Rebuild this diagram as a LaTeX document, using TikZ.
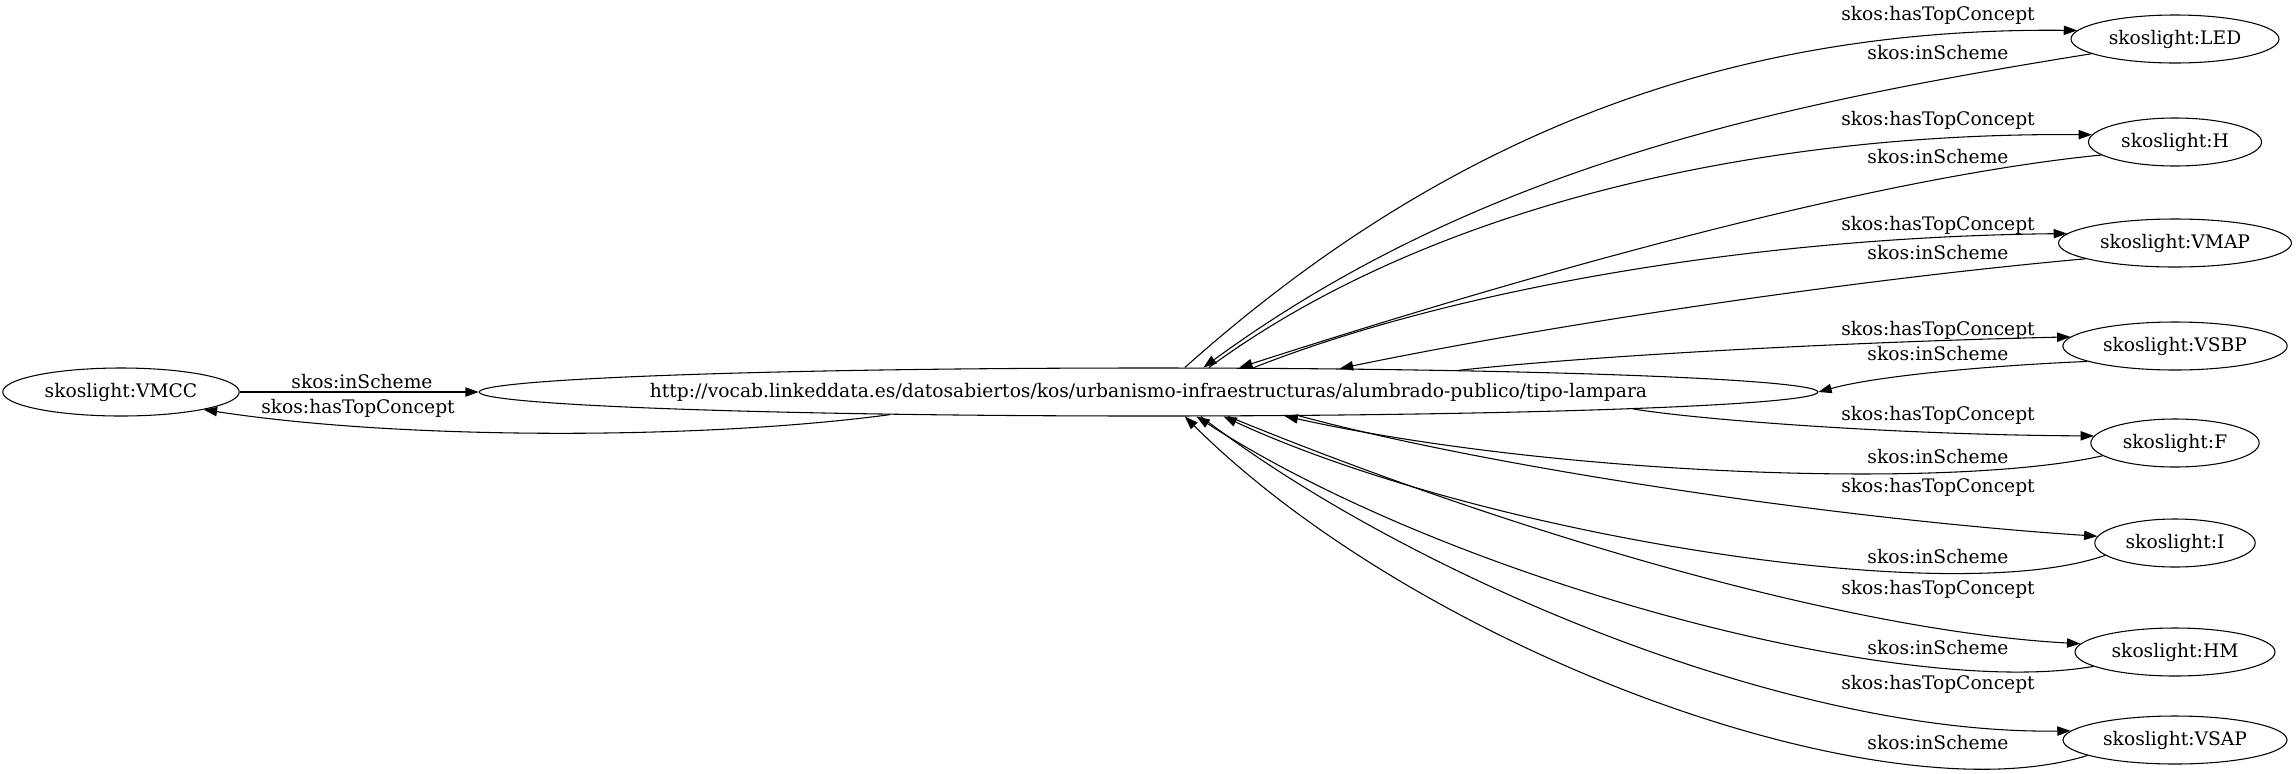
\documentclass[tikz,border=0pt]{standalone}
\usepackage{fontspec}
\setmainfont{DejaVu Serif}
\usetikzlibrary{arrows.meta}
\usetikzlibrary{shapes.geometric}
\tikzstyle{concept}=[ellipse, draw, minimum height=36bp, inner xsep=5.5bp, inner ysep=0pt]
\tikzstyle{scheme}=[concept, inner xsep=-19bp]
\tikzstyle{lbl}=[inner sep=0pt]

\begin{document}
\begin{tikzpicture}[x=.75bp, y=-.75bp, line width=.8bp, >={Triangle[length=10bp,width=7bp]}, font=\fontsize{14bp}{17bp}\selectfont]
    \useasboundingbox (0,0) rectangle (2296,773);

    \node[scheme] (tl) at (1148.5,392) {http://vocab.linkeddata.es/datosabiertos/kos/urbanismo-infraestructuras/alumbrado-publico/tipo-lampara};
    \node[concept] (vmcc) at (121,392) {skoslight:VMCC};

    \node[concept] (led) at (2175,39) {skoslight:LED};
    \node[concept] (h) at (2175,142) {skoslight:H};
    \node[concept] (vmap) at (2175,243) {skoslight:VMAP};
    \node[concept] (vsbp) at (2175,346) {skoslight:VSBP};
    \node[concept] (f) at (2175,443) {skoslight:F};
    \node[concept] (i) at (2175,543) {skoslight:I};
    \node[concept] (hm) at (2175,652) {skoslight:HM};
    \node[concept] (vsap) at (2175,740) {skoslight:VSAP};

    \node[lbl] (in0) at (362,382) {skos:inScheme};
    \node[lbl] (top0) at (358,408) {skos:hasTopConcept};
    \foreach \n/\y in {1/15, 2/120, 3/225, 4/330, 5/415, 6/487, 7/589, 8/684}
      \node[lbl] (top\n) at (1938,\y) {skos:hasTopConcept};
    \foreach \n/\y in {1/53, 2/157, 3/253, 4/354, 5/457, 6/557, 7/648, 8/743}
      \node[lbl] (in\n) at (1938,\y) {skos:inScheme};

    \draw[->] (vmcc) -- (tl);
    \draw[->] (tl.185.3) .. controls (700,440) and (400,440) .. (vmcc.-12);

    \draw[->] (tl.34.8) .. controls (1440,140) and (1720,27) .. (led.175);
    \draw[->] (led.190) .. controls (1786,103) and (1482,164) .. (tl.24.7);
    \draw[->] (tl.22.8) .. controls (1430,205) and (1760,132) .. (h.175);
    \draw[->] (h.190) .. controls (1850,180) and (1480,290) .. (tl.15);
    \draw[->] (tl.13.8) .. controls (1450,290) and (1750,237) .. (vmap.175);
    \draw[->] (vmap.190) .. controls (1850,280) and (1550,325) .. (tl.7.56);
    \draw[->] (tl.4.61) .. controls (1600,355) and (1850,342) .. (vsbp.175);
    \draw[->] (vsbp.190) .. controls (2000,365) and (1880,375) .. (tl.0.69);

    \draw[->] (tl.-2.84) .. controls (1700,420) and (1900,435) .. (f.175);
    \draw[->] (f.190) .. controls (1950,490) and (1550,475) .. (tl.-10.55);
    \draw[->] (tl.-9.41) .. controls (1500,470) and (1850,520) .. (i.175);
    \draw[->] (i.190) .. controls (1950,610) and (1480,535) .. (tl.-18.5);
    \draw[->] (tl.-17.1) .. controls (1480,520) and (1830,630) .. (hm.175);
    \draw[->] (hm.190) .. controls (1900,700) and (1450,580) .. (tl.-27.2);
    \draw[->] (tl.-25.3) .. controls (1400,570) and (1780,735) .. (vsap.175);
    \draw[->] (vsap.190) .. controls (1880,820) and (1420,650) .. (tl.-34.8);
  \end{tikzpicture}
\end{document}
